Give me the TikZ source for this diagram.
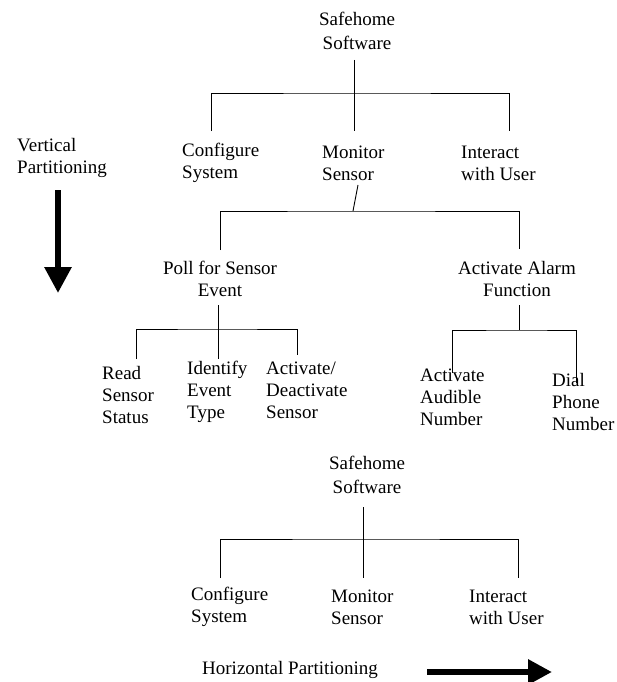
\documentclass[tikz,border=0pt]{standalone}
\usepackage{fontspec}
\setmainfont{Liberation Serif}
\usetikzlibrary{arrows.meta}
\begin{document}
\begin{tikzpicture}[x=1pt,y=-1pt,
  lbl/.style={font=\fontsize{19}{22}\selectfont, inner sep=0pt, align=left, anchor=west},
  ttl/.style={font=\fontsize{19}{24}\selectfont, inner sep=0pt, align=center},
  ttlb/.style={font=\fontsize{19}{22}\selectfont, inner sep=0pt, align=center},
  ln/.style={line width=0.9pt},
  bigarrow/.style={line width=6pt, -{Triangle[length=26pt,width=26pt]}}]
\useasboundingbox (0,0) rectangle (617,682);

% ---------- top tree ----------
\node[ttl] (t1) at (357,31) {Safehome\\Software};
\node[lbl] (cs1) at (182,163) {Configure\\System};
\node[lbl] (ms1) at (322,163) {Monitor\\Sensor};
\node[lbl] (iu1) at (461,163) {Interact\\with User};

\coordinate (t1b) at (354,60);
\coordinate (bus1) at (354,93);
\coordinate (cs1t) at (211,131);
\coordinate (ms1t) at (354,131);
\coordinate (iu1t) at (509,131);
\draw[ln] (t1b) -- (bus1);
\draw[ln] (cs1t) |- (bus1) -| (iu1t);
\draw[ln] (bus1) -- (ms1t);

% ---------- second level ----------
\node[ttlb] (pe) at (220,279) {Poll for Sensor\\Event};
\node[ttlb] (aa) at (517,279) {Activate Alarm\\Function};

\coordinate (ms1b) at (358,185);
\coordinate (bus2) at (353,211);
\coordinate (pet) at (220,250);
\coordinate (aat) at (519,249);
\draw[ln] (ms1b) -- (bus2);
\draw[ln] (pet) |- (bus2) -| (aat);

% ---------- third level left ----------
\node[lbl] (rs) at (102,395) {Read\\Sensor\\Status};
\node[lbl] (ie) at (187,392) {Identify\\Event\\Type};
\node[lbl] (ad) at (266,390) {Activate/\\Deactivate\\Sensor};

\coordinate (peb) at (218,305);
\coordinate (bus3) at (218,329);
\coordinate (rst) at (136,359);
\coordinate (iet) at (218,359);
\coordinate (adt) at (297,355);
\draw[ln] (peb) -- (bus3);
\draw[ln] (rst) |- (bus3) -| (adt);
\draw[ln] (bus3) -- (iet);

% ---------- third level right ----------
\node[lbl] (an) at (420,397) {Activate\\Audible\\Number};
\node[lbl] (dp) at (552,402) {Dial\\Phone\\Number};

\coordinate (aab) at (519,305);
\coordinate (bus4) at (519,330);
\coordinate (ant) at (452,373);
\coordinate (dpt) at (576,383);
\draw[ln] (aab) -- (bus4);
\draw[ln] (ant) |- (bus4) -| (dpt);

% ---------- vertical partitioning ----------
\node[lbl] (vp) at (17,158) {Vertical\\Partitioning};
\coordinate (va) at (58,190);
\coordinate (vb) at (58,293);
\draw[bigarrow] (va) -- (vb);

% ---------- bottom tree ----------
\node[ttl] (t2) at (367,475) {Safehome\\Software};
\node[lbl] (cs2) at (191,607) {Configure\\System};
\node[lbl] (ms2) at (331,607) {Monitor\\Sensor};
\node[lbl] (iu2) at (469,607) {Interact\\with User};

\coordinate (t2b) at (363,507);
\coordinate (bus5) at (363,539);
\coordinate (cs2t) at (220,578);
\coordinate (ms2t) at (363,578);
\coordinate (iu2t) at (518,578);
\draw[ln] (t2b) -- (bus5);
\draw[ln] (cs2t) |- (bus5) -| (iu2t);
\draw[ln] (bus5) -- (ms2t);

% ---------- horizontal partitioning ----------
\node[lbl] (hp) at (202,670) {Horizontal Partitioning};
\coordinate (ha) at (427,672);
\coordinate (hb) at (552,672);
\draw[line width=6pt, -{Triangle[length=24pt,width=24pt]}] (ha) -- (hb);
\end{tikzpicture}
\end{document}
